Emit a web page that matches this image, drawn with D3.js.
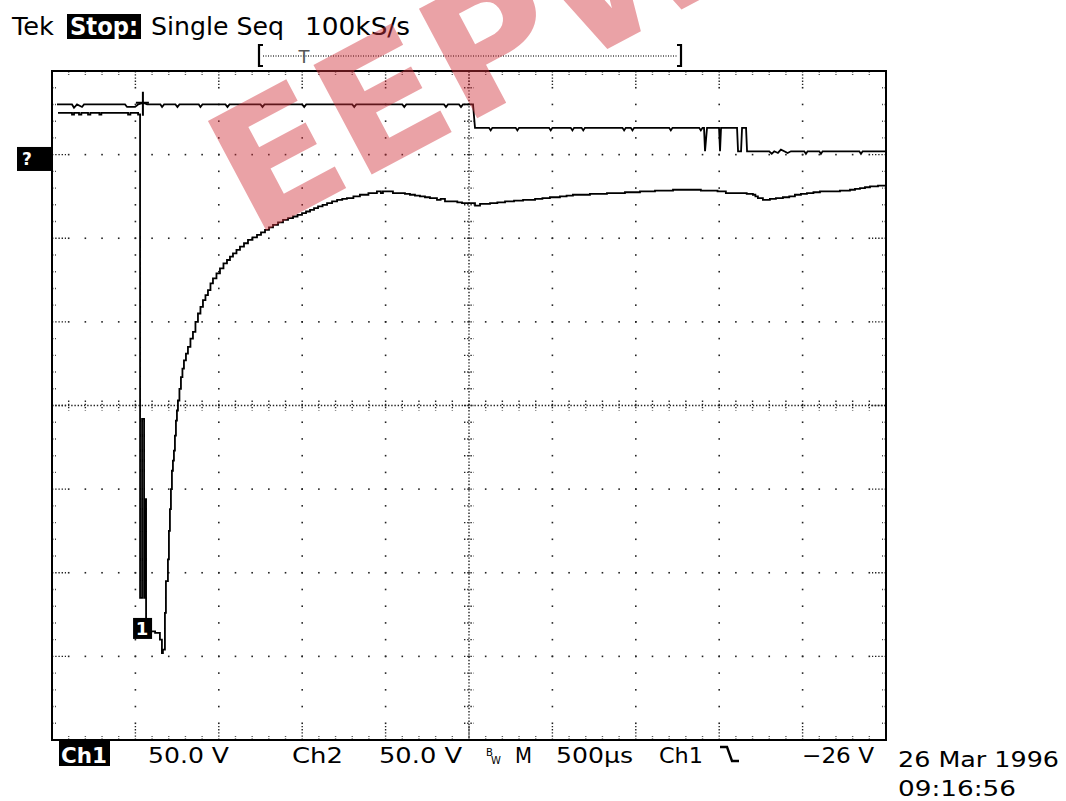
<!DOCTYPE html>
<meta charset="utf-8">
<script src="https://d3js.org/d3.v7.min.js"></script>
<style>
  body { margin: 0; background: #fff; }
  text { font-family: "DejaVu Sans", sans-serif; }
</style>
<div id="scope"></div>
<script>
// time in µs from left edge (500 µs/div), volts (50 V/div, 0 = centre line)
const ch1 = [
  [36,175],[108,175],[120,174],[132,175],[150,175],[162,174],[176,175],[216,174],[230,175],
  [276,175],[284,174],[296,175],[440,175],[456,174],[470,175],[516,174],
  [528,-115],[540,-8],[552,-115],[558,-56],[564,-133],[588,-135],[618,-136],[647,-140],
  [659,-148],[665,-146],[677,-124],[683,-105],[695,-92],[701,-75],[707,-62],[713,-50],
  [719,-39],[725,-33],[731,-27],[737,-18],[743,-9],[749,-3],[755,3],[764,10],[773,17],
  [782,22],[791,27],[803,31],[815,35],[830,40],[845,44],[860,50],[875,55],[890,59],
  [905,63],[920,66],[935,69],[950,73],[965,76],[986,79],[1007,82],[1028,85],[1049,87],
  [1067,89],[1085,91],[1106,93],[1127,95],[1151,97],[1175,99],[1202,100.5],[1229,102],
  [1253,103.5],[1277,105],[1301,106.5],[1325,108],[1355,109.5],[1385,111],[1415,112],
  [1445,113],[1472,114],[1499,115],[1523,116],[1547,117],[1571,118],[1595,119],[1622,120],
  [1649,121],[1679,122],[1709,123],[1740,123.5],[1768,124],[1807,125],[1846,126],
  [1897,127],[1948,128],[1972,127],[1984,128],[1996,128],[2044,127],[2086,127],
  [2116,126.5],[2146,126],[2176,125.5],[2206,125],[2236,124.5],[2266,124],[2308,123],
  [2330,123.5],[2356,122],[2404,122],[2430,121.5],[2458,121],[2506,121],[2536,119.5],
  [2566,120.5],[2596,120.5],[2626,121],[2670,121.5],[2716,122],[2770,122.5],[2824,123],
  [2896,123.5],[2940,124],[2985,124.5],[3045,125],[3085,125.5],[3123,126],[3175,126],
  [3225,126.5],[3275,126.5],[3327,127],[3380,127],[3435,127.5],[3480,127.5],[3525,128],
  [3570,128],[3615,128.5],[3670,128.5],[3723,129],[3775,129],[3825,129],[3890,128.5],
  [3963,128.5],[3990,128],[4017,128],[4040,127],[4065,127],[4095,127],[4125,127],
  [4165,126.5],[4202,126],[4217,125],[4232,124],[4262,123],[4280,123],[4304,123.5],
  [4340,124],[4382,124.5],[4420,125],[4454,126],[4490,126.5],[4526,127],[4565,127.5],
  [4604,128],[4665,128],[4724,128.5],[4784,129],[4814,129.5],[4844,130],[4874,130.5],
  [4904,131],[4952,131.5],[5000,131.5]
];

const ch2 = [
  [30,180],[120,180],[132,178],[150,180],[180,178.5],[192,180],[438,180],[450,178.5],
  [498,178.5],[516,180],[546,181],[570,180],[650,180],[660,178.5],[672,180],[740,180],
  [752,178.5],[764,180],[880,180],[890,178.5],[902,180],[1040,180],[1052,178.5],[1064,180],
  [1250,180],[1262,178.5],[1274,180],[1500,180],[1512,178.5],[1524,180],[1800,180],
  [1812,178.5],[1824,180],[2100,180],[2112,178.5],[2124,180],[2350,180],[2362,178.5],
  [2374,180],[2440,180],[2452,178.5],[2464,180],[2524,180],[2536,166],
  [2620,166],[2630,164.5],[2640,166],[2780,166],[2790,164.5],[2800,166],[2980,166],
  [2990,164.5],[3000,166],[3110,166],[3120,164.5],[3130,166],[3175,166],[3185,164.5],
  [3195,166],[3420,166],[3430,164.5],[3440,166],[3470,166],[3480,164.5],[3490,166],
  [3700,166],[3710,164.5],[3720,166],[3880,166],[3890,164.5],[3900,166],
  [3909,166],[3915,152],[3927,166],[3999,166],[4005,152],[4011,166],[4107,166],
  [4113,152],[4131,152],[4137,166],[4161,166],[4167,152],
  [4300,152],[4315,150.5],[4330,152],[4352,151],[4370,153],[4390,152],[4410,151],
  [4430,152],[4510,152],[4520,150.5],[4530,152],[4600,152],[4610,150.5],[4620,152],
  [4840,152],[4850,150.5],[4860,152],[5000,152]
];

const trigger = [545, 181];     // trigger point (µs, V)
const ch1Marker = [534, -133];  // channel 1 marker on screen
const ch2Ground = 148;          // channel 2 ground marker (V)

const header = ["Tek", "Stop:", "Single Seq", "100kS/s"];
const footer = ["Ch1", "50.0 V", "Ch2", "50.0 V", "M", "500µs", "Ch1", "\u221226 V"];
const stamp = ["26 Mar 1996", "09:16:56"];

const W = 1066, H = 801;
const svg = d3.select("#scope").append("svg")
  .attr("width", W).attr("height", H);

const x = d3.scaleLinear().domain([0, 5000]).range([52, 886]);
const y = d3.scaleLinear().domain([-200, 200]).range([740, 71]);

const majX = x.ticks(10), minX = x.ticks(50);
const majY = y.ticks(8), minY = y.ticks(40);
const x0 = x(0), x1 = x(5000), y0 = y(200), y1 = y(-200);

const grid = svg.append("g").attr("fill", "#222");

// dotted major graticule
majX.filter(d => d > 0 && d < 5000 && d !== 2500).forEach(tx => {
  grid.selectAll(null).data(minY.filter(v => v > -200 && v < 200)).join("rect")
    .attr("x", x(tx) - 0.8).attr("y", v => y(v) - 0.8).attr("width", 1.6).attr("height", 1.6);
});
majY.filter(v => v > -200 && v < 200 && v !== 0).forEach(tv => {
  grid.selectAll(null).data(minX.filter(d => d > 0 && d < 5000)).join("rect")
    .attr("x", d => x(d) - 0.8).attr("y", y(tv) - 0.8).attr("width", 1.6).attr("height", 1.6);
});

// centre cross, dense dots plus minor ticks
const dense = svg.append("g").attr("stroke", "#222").attr("stroke-width", 1.4)
  .attr("stroke-dasharray", "1.4,1.8");
dense.append("line").attr("x1", x0).attr("x2", x1).attr("y1", y(0)).attr("y2", y(0));
dense.append("line").attr("x1", x(2500)).attr("x2", x(2500)).attr("y1", y0).attr("y2", y1);
dense.selectAll(".cx").data(minX).join("line")
  .attr("x1", d => x(d)).attr("x2", d => x(d)).attr("y1", y(0) - 5).attr("y2", y(0) + 5);
dense.selectAll(".cy").data(minY).join("line")
  .attr("y1", v => y(v)).attr("y2", v => y(v)).attr("x1", x(2500) - 5).attr("x2", x(2500) + 5);

// border ticks
const bt = svg.append("g").attr("stroke", "#222").attr("stroke-width", 1.4)
  .attr("stroke-dasharray", "1.4,1.8");
minX.filter(d => d > 0 && d < 5000).forEach(d => {
  const L = majX.includes(d) ? 14 : 4;
  bt.append("line").attr("x1", x(d)).attr("x2", x(d)).attr("y1", y0).attr("y2", y0 + L);
  bt.append("line").attr("x1", x(d)).attr("x2", x(d)).attr("y1", y1).attr("y2", y1 - L);
});
minY.filter(v => v > -200 && v < 200).forEach(v => {
  const L = majY.includes(v) ? 14 : 4;
  bt.append("line").attr("y1", y(v)).attr("y2", y(v)).attr("x1", x0).attr("x2", x0 + L);
  bt.append("line").attr("y1", y(v)).attr("y2", y(v)).attr("x1", x1).attr("x2", x1 - L);
});

svg.append("rect").attr("x", x0).attr("y", y0)
  .attr("width", x1 - x0).attr("height", y1 - y0)
  .attr("fill", "none").attr("stroke", "#000").attr("stroke-width", 2);

// traces
const line = d3.line().x(d => x(d[0])).y(d => y(d[1]));
svg.append("path").attr("d", line(ch2))
  .attr("fill", "none").attr("stroke", "#000").attr("stroke-width", 1.8);
svg.append("path").attr("d", line.curve(d3.curveStepAfter)(ch1))
  .attr("fill", "none").attr("stroke", "#000").attr("stroke-width", 1.8);

// trigger crosshair
const tx = x(trigger[0]), ty = y(trigger[1]);
svg.append("path")
  .attr("d", `M${tx},${ty - 11}V${ty + 13}M${tx - 7},${ty}H${tx + 6}`)
  .attr("stroke", "#000").attr("stroke-width", 2);

// ch1 on-screen marker
const mx = x(ch1Marker[0]), my = y(ch1Marker[1]);
svg.append("rect").attr("x", mx - 8).attr("y", my - 10).attr("width", 19).attr("height", 21)
  .attr("fill", "#000");
svg.append("text").attr("x", mx + 1).attr("y", my + 7).attr("fill", "#fff")
  .attr("font-size", 18).attr("font-weight", "bold").attr("text-anchor", "middle").text("1");

// ch2 ground marker at left edge
svg.append("rect").attr("x", 17).attr("y", y(ch2Ground) - 11).attr("width", 35).attr("height", 24)
  .attr("fill", "#000");
svg.append("text").attr("x", 27).attr("y", y(ch2Ground) + 7).attr("fill", "#fff")
  .attr("font-size", 17).attr("font-weight", "bold").attr("text-anchor", "middle").text("?");

// record bar
const rb = svg.append("g");
rb.append("line").attr("x1", 263).attr("x2", 678).attr("y1", 56).attr("y2", 56)
  .attr("stroke", "#444").attr("stroke-width", 1.3).attr("stroke-dasharray", "1,1.5");
rb.append("path").attr("d", "M263,45H259V66H263M677,45H681V66H677")
  .attr("fill", "none").attr("stroke", "#000").attr("stroke-width", 2.2);
rb.append("text").attr("x", 304).attr("y", 63).attr("font-size", 18)
  .attr("fill", "#555").attr("text-anchor", "middle").text("T");

// header
const hd = svg.append("g").attr("font-size", 24);
hd.append("text").attr("x", 12).attr("y", 35).attr("textLength", 42)
  .attr("lengthAdjust", "spacingAndGlyphs").text(header[0]);
hd.append("rect").attr("x", 67).attr("y", 14).attr("width", 74).attr("height", 25).attr("fill", "#000");
hd.append("text").attr("x", 70).attr("y", 35).attr("fill", "#fff").attr("font-weight", "bold")
  .attr("textLength", 68).attr("lengthAdjust", "spacingAndGlyphs").text(header[1]);
hd.append("text").attr("x", 151).attr("y", 35).attr("textLength", 133)
  .attr("lengthAdjust", "spacingAndGlyphs").text(header[2]);
hd.append("text").attr("x", 305).attr("y", 35).attr("textLength", 105)
  .attr("lengthAdjust", "spacingAndGlyphs").text(header[3]);

// footer
const ft = svg.append("g").attr("font-size", 22);
ft.append("rect").attr("x", 59).attr("y", 741).attr("width", 51).attr("height", 25).attr("fill", "#000");
const fpos = [[61, 46], [148, 81], [292, 51], [379, 83], [515, 17], [556, 77], [659, 44], [802, 72]];
footer.forEach((t, i) => {
  ft.append("text").attr("x", fpos[i][0]).attr("y", 763)
    .attr("textLength", fpos[i][1]).attr("lengthAdjust", "spacingAndGlyphs")
    .attr("fill", i === 0 ? "#fff" : "#000").attr("font-weight", i === 0 ? "bold" : "normal")
    .text(t);
});
ft.append("text").attr("x", 486).attr("y", 756).attr("font-size", 10).text("B");
ft.append("text").attr("x", 491).attr("y", 764).attr("font-size", 10).text("W");
ft.append("path").attr("d", "M720,747H727L732,761H739")
  .attr("fill", "none").attr("stroke", "#000").attr("stroke-width", 2.4);
ft.append("text").attr("x", 898).attr("y", 767).attr("textLength", 161)
  .attr("lengthAdjust", "spacingAndGlyphs").text(stamp[0]);
ft.append("text").attr("x", 898).attr("y", 796).attr("font-size", 21).attr("textLength", 118)
  .attr("lengthAdjust", "spacingAndGlyphs").text(stamp[1]);

// watermark
svg.append("text").attr("transform", "translate(252,238) rotate(-28)")
  .attr("font-family", "Liberation Sans, Arial, sans-serif").attr("font-weight", "bold")
  .attr("font-size", 170).attr("textLength", 560).attr("lengthAdjust", "spacingAndGlyphs")
  .attr("fill", "rgb(210,50,60)").attr("opacity", 0.45)
  .text("EEPW");
</script>
